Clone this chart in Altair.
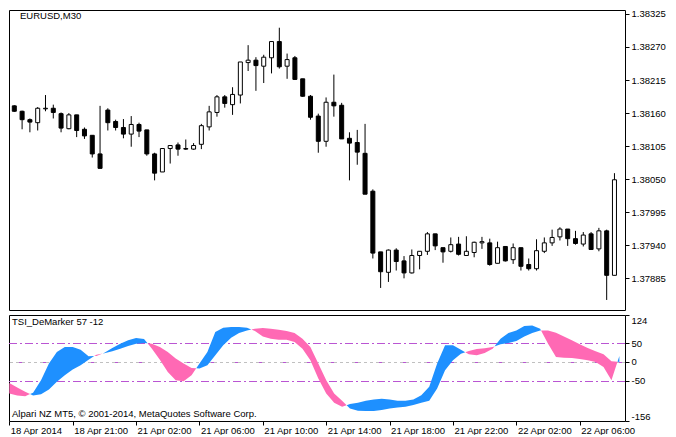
import altair as alt
import pandas as pd

# ---------------- data ----------------
opens = [1.38172, 1.38163, 1.38149, 1.38144, 1.38167, 1.38168, 1.38159, 1.38134, 1.38157, 1.38133,
         1.38123, 1.38092, 1.38165, 1.38146, 1.38136, 1.38125, 1.38141, 1.38132, 1.38092, 1.38062,
         1.38101, 1.38107, 1.38101, 1.38100, 1.38108, 1.38137, 1.38161, 1.38187, 1.38174, 1.38190,
         1.38244, 1.38248, 1.38238, 1.38252, 1.38279, 1.38238, 1.38252, 1.38217, 1.38188, 1.38155,
         1.38113, 1.38178, 1.38173, 1.38118, 1.38111, 1.38093, 1.38030, 1.37929, 1.37895, 1.37932,
         1.37914, 1.37894, 1.37923, 1.37930, 1.37959, 1.37936, 1.37930, 1.37942, 1.37923, 1.37928,
         1.37944, 1.37944, 1.37910, 1.37938, 1.37916, 1.37936, 1.37908, 1.37901, 1.37930, 1.37944,
         1.37954, 1.37967, 1.37951, 1.37942, 1.37959, 1.37934, 1.37964, 1.37890]
highs = [1.38173, 1.38164, 1.38151, 1.38170, 1.38190, 1.38174, 1.38161, 1.38160, 1.38157, 1.38136,
         1.38123, 1.38172, 1.38168, 1.38149, 1.38150, 1.38155, 1.38144, 1.38132, 1.38094, 1.38101,
         1.38106, 1.38111, 1.38116, 1.38110, 1.38142, 1.38172, 1.38190, 1.38190, 1.38203, 1.38245,
         1.38273, 1.38253, 1.38257, 1.38279, 1.38302, 1.38259, 1.38255, 1.38217, 1.38190, 1.38159,
         1.38186, 1.38224, 1.38177, 1.38128, 1.38132, 1.38142, 1.38033, 1.37929, 1.37933, 1.37935,
         1.37922, 1.37933, 1.37930, 1.37962, 1.37959, 1.37936, 1.37953, 1.37954, 1.37955, 1.37946,
         1.37954, 1.37951, 1.37946, 1.37938, 1.37943, 1.37936, 1.37918, 1.37950, 1.37953, 1.37966,
         1.37970, 1.37967, 1.37964, 1.37962, 1.37962, 1.37969, 1.37966, 1.38060]
lows = [1.38162, 1.38133, 1.38128, 1.38131, 1.38163, 1.38151, 1.38128, 1.38133, 1.38120, 1.38117,
        1.38086, 1.38068, 1.38131, 1.38131, 1.38118, 1.38104, 1.38120, 1.38089, 1.38048, 1.38062,
        1.38076, 1.38089, 1.38099, 1.38099, 1.38100, 1.38131, 1.38154, 1.38169, 1.38157, 1.38176,
        1.38230, 1.38197, 1.38210, 1.38226, 1.38234, 1.38217, 1.38215, 1.38187, 1.38149, 1.38094,
        1.38104, 1.38154, 1.38117, 1.38048, 1.38074, 1.38025, 1.37918, 1.37869, 1.37879, 1.37898,
        1.37885, 1.37893, 1.37900, 1.37924, 1.37932, 1.37911, 1.37928, 1.37923, 1.37923, 1.37920,
        1.37934, 1.37906, 1.37910, 1.37913, 1.37909, 1.37898, 1.37898, 1.37898, 1.37927, 1.37939,
        1.37948, 1.37939, 1.37941, 1.37938, 1.37933, 1.37930, 1.37849, 1.37890]
closes = [1.38163, 1.38149, 1.38145, 1.38168, 1.38168, 1.38161, 1.38135, 1.38157, 1.38131, 1.38122,
          1.38092, 1.38068, 1.38144, 1.38136, 1.38125, 1.38141, 1.38130, 1.38092, 1.38060, 1.38101,
          1.38106, 1.38100, 1.38100, 1.38106, 1.38139, 1.38162, 1.38187, 1.38176, 1.38191, 1.38245,
          1.38248, 1.38239, 1.38253, 1.38279, 1.38237, 1.38249, 1.38216, 1.38188, 1.38153, 1.38113,
          1.38178, 1.38172, 1.38117, 1.38110, 1.38095, 1.38025, 1.37927, 1.37896, 1.37932, 1.37913,
          1.37894, 1.37923, 1.37930, 1.37959, 1.37939, 1.37929, 1.37941, 1.37925, 1.37930, 1.37945,
          1.37946, 1.37908, 1.37936, 1.37914, 1.37936, 1.37905, 1.37901, 1.37931, 1.37944, 1.37953,
          1.37967, 1.37951, 1.37943, 1.37957, 1.37933, 1.37964, 1.37890, 1.38049]

tsi_main = [-83.3, -88.6, -90.4, -81.6, -48.2, -4.4, 26.3, 39.5, 39.5, 32.5,
            14.9, 15.8, 24.0, 36.8, 48.2, 57.0, 63.2, 60.5, 35.1, 6.1,
            -26.3, -48.2, -50.9, -35.1, -4.4, 26.3, 78.9, 90.4, 92.1, 92.1,
            90.4, 81.6, 67.5, 61.4, 58.8, 58.8, 52.6, 35.1, 4.4, -43.9,
            -83.3, -107.9, -118.4, -111.4, -107.9, -102.6, -99.1, -97.4, -99.1, -102.6,
            -102.6, -99.1, -87.7, -65.8, -4.4, 43.9, 43.9, 32.5, 20.2, 17.5,
            23.7, 35.1, 61.4, 76.3, 83.3, 94.7, 96.5, 87.7, 48.2, 13.2,
            11.4, 10.5, 7.9, 4.4, 0.0, -13.2, -48.2, 15.8]
tsi_signal = [-55.3, -67.5, -78.9, -88.6, -85.1, -72.8, -52.6, -35.1, -20.2, -8.8,
              6.1, 19.3, 23.0, 28.1, 35.1, 42.1, 48.2, 50.0, 48.2, 39.5,
              26.3, 8.8, -4.4, -15.8, -17.5, -8.8, 17.5, 43.9, 64.0, 76.3,
              83.3, 87.7, 89.5, 87.7, 85.1, 81.6, 76.3, 61.4, 39.5, -4.4,
              -48.2, -83.3, -102.6, -122.8, -128.9, -129.8, -129.8, -127.2, -122.8, -120.2,
              -118.4, -114.0, -107.9, -102.6, -70.2, -21.9, 4.4, 21.9, 28.9, 34.2,
              36.0, 39.5, 46.5, 50.0, 55.3, 67.5, 76.3, 83.3, 83.3, 77.2,
              67.5, 57.0, 46.5, 36.8, 28.1, 20.2, 1.8, 0.0]

time_tick_bars = [0, 8, 16, 24, 32, 40, 48, 56, 64, 72]
time_tick_labels = ["18 Apr 2014", "18 Apr 21:00", "21 Apr 02:00", "21 Apr 06:00", "21 Apr 10:00",
                    "21 Apr 14:00", "21 Apr 18:00", "21 Apr 22:00", "22 Apr 02:00", "22 Apr 06:00"]
price_ticks = [1.38325, 1.38270, 1.38215, 1.38160, 1.38105, 1.38050, 1.37995, 1.37940, 1.37885]
level_ticks = [124, 50, 0, -50, -156]

title_main = "EURUSD,M30"
title_ind = "TSI_DeMarker 57 -12"
copyright_txt = "Alpari NZ MT5, \u00a9 2001-2014, MetaQuotes Software Corp."

FONT = "Liberation Sans"
FS = 9.5
BLUE = "#1E90FF"
PINK = "#FF69B4"
PURPLE = "#BA55D3"
GRAY = "#C0C0C0"

# ---------------- tables ----------------
N = len(opens)
candles = pd.DataFrame({"i": list(range(N)), "open": opens, "high": highs,
                        "low": lows, "close": closes})
candles["fill"] = ["white" if c >= o else "black" for o, c in zip(opens, closes)]

rows = []
for k in range(N):
    rows.append((k, tsi_main[k], tsi_signal[k]))
    if k < N - 1:
        d0 = tsi_main[k] - tsi_signal[k]
        d1 = tsi_main[k + 1] - tsi_signal[k + 1]
        if d0 * d1 < 0:
            t = d0 / (d0 - d1)
            v = tsi_main[k] + t * (tsi_main[k + 1] - tsi_main[k])
            rows.append((k + t, v, v))
band = pd.DataFrame(rows, columns=["x", "tsi", "sig"])
band["lo"] = band[["tsi", "sig"]].min(axis=1)

W = 616
xscale = alt.Scale(domain=[-0.04, 77.71], nice=False, zero=False)

# ---------------- price panel ----------------
pscale = alt.Scale(domain=[1.378323, 1.383315], nice=False, zero=False)
pax = alt.Axis(orient="right", values=price_ticks, format=".5f", title=None,
               grid=False, domain=False, tickSize=4, tickColor="black",
               labelPadding=2, labelColor="black", labelFont=FONT,
               labelFontSize=FS, labelOverlap=False, labelBound=False)
base = alt.Chart(candles)
wicks = base.mark_rule(color="black", strokeWidth=1, clip=True).encode(
    x=alt.X("i:Q", scale=xscale, axis=None),
    y=alt.Y("low:Q", scale=pscale, axis=pax),
    y2="high:Q",
)
bodies = base.mark_bar(size=4, stroke="black", strokeWidth=1, clip=True).encode(
    x=alt.X("i:Q", scale=xscale, axis=None),
    y=alt.Y("open:Q", scale=pscale, axis=pax),
    y2="close:Q",
    fill=alt.Fill("fill:N", scale=None),
)
t1 = alt.Chart(pd.DataFrame({"t": [title_main]})).mark_text(
    align="left", baseline="top", font=FONT, fontSize=FS, color="black"
).encode(x=alt.value(11), y=alt.value(1), text="t:N")
top = alt.layer(wicks, bodies, t1).properties(width=W, height=300)

# ---------------- indicator panel ----------------
iscale = alt.Scale(domain=[-156, 124], nice=False, zero=False)
lab_expr = "".join(f"datum.value == {b} ? '{l}' : " for b, l in zip(time_tick_bars, time_tick_labels)) + "''"

yax = alt.Axis(orient="right", values=level_ticks, title=None, grid=False,
               domain=False, tickSize=4, tickColor="black", labelPadding=2,
               labelColor="black", labelFont=FONT, labelFontSize=FS,
               labelFlush=True, labelOverlap=False, labelExpr="'' + datum.value")


def level(v, color, dash, off, dash_off=0):
    return alt.Chart(pd.DataFrame({"v": [v]})).mark_rule(
        color=color, strokeWidth=1, strokeDash=dash, strokeDashOffset=dash_off, yOffset=off
    ).encode(y=alt.Y("v:Q", scale=iscale, axis=yax))


lvl_hi = level(50, PURPLE, [8, 3, 2, 3], 0.49)
lvl_lo = level(-50, PURPLE, [8, 3, 2, 3], 0.63)
zero_g = level(0, GRAY, [3, 3], 0.56)
zero_p = level(0, PURPLE, [3, 21], 0.56, dash_off=21)

bx = alt.X("x:Q", scale=xscale,
           axis=alt.Axis(values=time_tick_bars, labelExpr=lab_expr, title=None, grid=False,
                         domain=False, tickSize=4, tickColor="black", labelAlign="left",
                         labelPadding=0, labelOffset=1, labelFlush=False, labelOverlap=False,
                         labelBound=False, labelColor="black", labelFont=FONT,
                         labelFontSize=FS))
blue = alt.Chart(band).mark_area(color=BLUE, clip=True, opacity=1).encode(
    x=bx, y=alt.Y("tsi:Q", scale=iscale, axis=yax), y2="lo:Q")
pink = alt.Chart(band).mark_area(color=PINK, clip=True, opacity=1).encode(
    x=bx, y=alt.Y("sig:Q", scale=iscale, axis=yax), y2="lo:Q")

t2 = alt.Chart(pd.DataFrame({"t": [title_ind]})).mark_text(
    align="left", baseline="top", font=FONT, fontSize=FS, color="black"
).encode(x=alt.value(3), y=alt.value(2), text="t:N")
t3 = alt.Chart(pd.DataFrame({"t": [copyright_txt]})).mark_text(
    align="left", baseline="alphabetic", font=FONT, fontSize=FS, color="black"
).encode(x=alt.value(3), y=alt.value(102), text="t:N")

bottom = alt.layer(lvl_hi, lvl_lo, zero_g, zero_p, blue, pink, t2, t3).properties(width=W, height=106)

chart = alt.vconcat(top, bottom, spacing=3).properties(
    padding=0, background="white"
).configure_view(stroke="black", strokeWidth=1).configure_concat(spacing=3)

chart.save("out.html", embed_options={"renderer": "svg", "actions": False})
